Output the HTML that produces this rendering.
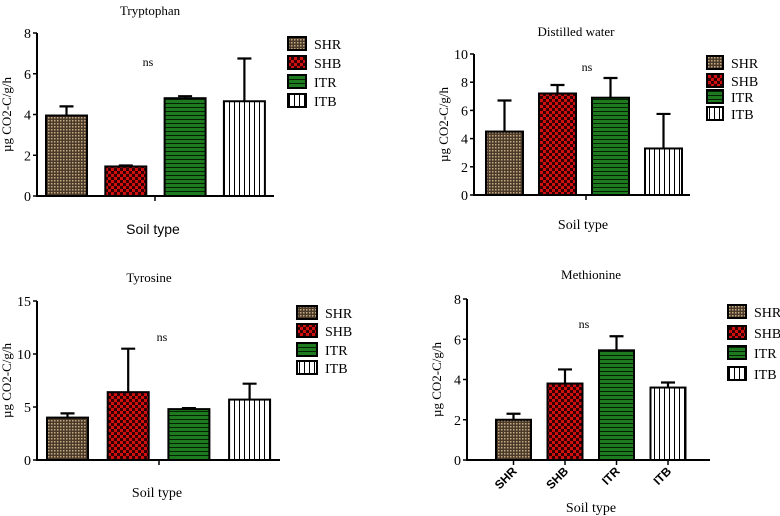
<!DOCTYPE html>
<html><head><meta charset="utf-8"><style>
html,body{margin:0;padding:0;background:#fff;width:780px;height:516px;overflow:hidden}
svg text{font-family:"Liberation Serif",serif;fill:#000}
.sans{font-family:"Liberation Sans",sans-serif}
</style></head><body>
<svg id="chart" width="780" height="516" xmlns="http://www.w3.org/2000/svg">
<defs>
<pattern id="pSHR" width="3" height="3" patternUnits="userSpaceOnUse"><rect width="3" height="3" fill="#4a3a2a"/><rect x="0" y="0" width="1.5" height="1.5" fill="#c8aa80"/></pattern>
<pattern id="pSHB" width="6" height="6" patternUnits="userSpaceOnUse"><rect width="6" height="6" fill="#d01010"/><rect width="3" height="3" fill="#300"/><rect x="3" y="3" width="3" height="3" fill="#300"/></pattern>
<pattern id="pITR" width="4" height="4" patternUnits="userSpaceOnUse"><rect width="4" height="4" fill="#1e7a1e"/><rect y="3" width="4" height="1" fill="#062006"/></pattern>
<pattern id="pITB" width="5" height="5" patternUnits="userSpaceOnUse"><rect width="5" height="5" fill="#fff"/><rect x="4" width="1.2" height="5" fill="#000"/></pattern>
</defs>
</svg>
<script>
const categories = ["SHR","SHB","ITR","ITB"];
const tryptophanValues = [3.95,1.45,4.8,4.65];
const tryptophanErrors = [0.45,0.05,0.1,2.1];
const waterValues = [4.5,7.2,6.9,3.3];
const waterErrors = [2.2,0.6,1.4,2.45];
const tyrosineValues = [4.0,6.4,4.8,5.7];
const tyrosineErrors = [0.4,4.1,0.1,1.5];
const methionineValues = [2.0,3.8,5.45,3.6];
const methionineErrors = [0.3,0.7,0.7,0.25];
const trpTicks = [0,2,4,6,8];
const waterTicks = [0,2,4,6,8,10];
const tyrTicks = [0,5,10,15];
const metTicks = [0,2,4,6,8];

const NS="http://www.w3.org/2000/svg";
const svg=document.getElementById('chart');
function mk(tag,attrs,parent){const e=document.createElementNS(NS,tag);for(const k in attrs)e.setAttribute(k,attrs[k]);(parent||svg).appendChild(e);return e;}

function panel(cfg, vals, errs, ticks){
  const g=mk('g',{});
  
  
  const ymax=ticks[ticks.length-1];
  const y=v=>cfg.y0-(v/ymax)*(cfg.y0-cfg.yTop);
  const x=i=>cfg.barX0+i*cfg.step;
  // bars
  vals.forEach((v,i)=>{
    const r=mk('rect',{x:x(i),y:y(v),width:cfg.bw,height:cfg.y0-y(v),fill:'url(#p'+categories[i]+')',stroke:'#000','stroke-width':2},g);
    
    
    const cx=x(i)+cfg.bw/2, top=y(v+errs[i]);
    const e=mk('path',{d:`M${cx},${y(v)}V${top}M${cx-7},${top}H${cx+7}`,stroke:'#000','stroke-width':2.2,fill:'none'},g);
    
    
  });
  // axes
  const ax=mk('path',{d:`M${cfg.ax},${cfg.yTop}V${cfg.y0}H${cfg.axEnd}`,stroke:'#000','stroke-width':2,fill:'none'},g);
  
  
  ticks.forEach(t=>{
    mk('line',{x1:cfg.ax-4,x2:cfg.ax,y1:y(t),y2:y(t),stroke:'#000','stroke-width':1.5},g);
    const tx=mk('text',{x:cfg.ax-6,y:y(t)+5,'text-anchor':'end','font-size':14},g);
    tx.textContent=t;
    
    
  });
  if(cfg.catLabels){
    categories.forEach((c,i)=>{
      const cx=x(i)+cfg.bw/2;
      mk('line',{x1:cfg.ax+0,x2:cfg.ax,y1:0,y2:0},g);
      mk('line',{x1:cx,x2:cx,y1:cfg.y0,y2:cfg.y0+5,stroke:'#000','stroke-width':1.5},g);
      const t=mk('text',{x:cx+4,y:cfg.y0+12,'text-anchor':'end','font-size':12,'font-weight':'bold',class:'sans',transform:`rotate(-45 ${cx+4} ${cfg.y0+12})`},g);
      t.textContent=c;
      
      
    });
  } else {
    mk('line',{x1:cfg.midTick,x2:cfg.midTick,y1:cfg.y0,y2:cfg.y0+5,stroke:'#000','stroke-width':1.5},g);
  }
  const ttl=mk('text',{x:cfg.titleX,y:cfg.titleY,'text-anchor':'middle','font-size':13},g);
  ttl.textContent=cfg.title;
  
  
  const ns=mk('text',{x:cfg.nsX,y:cfg.nsY,'text-anchor':'middle','font-size':12},g);
  ns.textContent='ns';
  
  
  const xl=mk('text',{x:cfg.xlX,y:cfg.xlY,'text-anchor':'middle','font-size':cfg.xlSans?14:14,class:cfg.xlSans?'sans':''},g);
  xl.textContent='Soil type';
  
  
  const ylx=cfg.ax-26, yly=(cfg.y0+cfg.yTop)/2;
  const yl=mk('text',{x:ylx,y:yly,'text-anchor':'middle','font-size':13,transform:`rotate(-90 ${ylx} ${yly})`},g);
  yl.textContent='µg CO2-C/g/h';
  
  
  categories.forEach((c,i)=>{
    const ly=cfg.legY[i];
    const lg=mk('g',{},g);
    
    
    mk('rect',{x:cfg.legX,y:ly-7,width:cfg.legW,height:13,fill:'url(#p'+c+')',stroke:'#000','stroke-width':2},lg);
    const lt=mk('text',{x:cfg.legX+cfg.legW+8,y:ly+5,'font-size':14},lg);
    lt.textContent=c;
  });
}

panel({id:'tryptophan',title:'Tryptophan',ax:37,axEnd:274,yTop:33,y0:196,barX0:46,step:59.3,bw:41,midTick:155,titleX:150,titleY:15,nsX:148,nsY:66,xlX:153,xlY:234,xlSans:true,legX:288,legW:18,legY:[44,63,82,101]},tryptophanValues,tryptophanErrors,trpTicks);
panel({id:'distilled-water',title:'Distilled water',ax:474,axEnd:690,yTop:54,y0:195,barX0:486,step:53,bw:37,midTick:586,titleX:576,titleY:54-18,nsX:587,nsY:71,xlX:583,xlY:229,legX:707,legW:16,legY:[63,81,97,114]},waterValues,waterErrors,waterTicks);
panel({id:'tyrosine',title:'Tyrosine',ax:37,axEnd:280,yTop:301,y0:460,barX0:47,step:60.7,bw:41,midTick:159,titleX:149,titleY:282,nsX:162,nsY:341,xlX:157,xlY:497,legX:297,legW:20,legY:[313,331,350,368]},tyrosineValues,tyrosineErrors,tyrTicks);
panel({id:'methionine',title:'Methionine',ax:467,axEnd:710,yTop:299,y0:460,barX0:496,step:51.5,bw:35,titleX:591,titleY:279,nsX:584,nsY:328,xlX:591,xlY:512,catLabels:true,legX:728,legW:18,legY:[312,333,353,374]},methionineValues,methionineErrors,metTicks);
</script>
</body></html>
